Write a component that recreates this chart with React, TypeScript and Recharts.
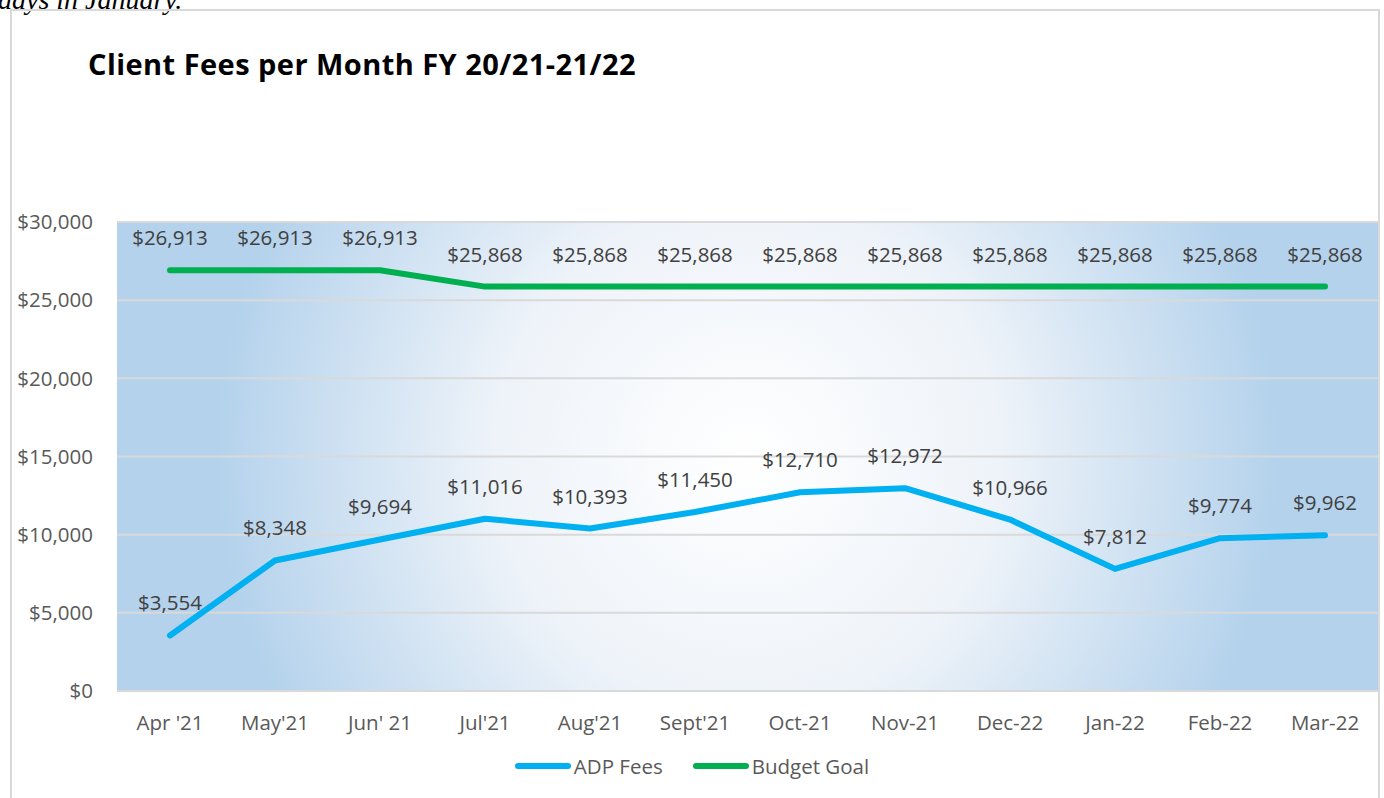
import { LineChart, Line, XAxis, YAxis, CartesianGrid, LabelList } from 'recharts';

const months = ["Apr '21", "May'21", "Jun' 21", "Jul'21", "Aug'21", "Sept'21", 'Oct-21', 'Nov-21', 'Dec-22', 'Jan-22', 'Feb-22', 'Mar-22'];
const adpFees = [3554, 8348, 9694, 11016, 10393, 11450, 12710, 12972, 10966, 7812, 9774, 9962];
const budgetGoal = [26913, 26913, 26913, 25868, 25868, 25868, 25868, 25868, 25868, 25868, 25868, 25868];
const yTicks = [0, 5000, 10000, 15000, 20000, 25000, 30000];

const BLUE = '#00b0f0';
const GREEN = '#00b050';
const FONT = '"Open Sans", sans-serif';

const rows = months.map((m, i) => ({ month: m, adp: adpFees[i], budget: budgetGoal[i] }));

const money = (v: number) => '$' + v.toLocaleString('en-US');

function LegendBox() {
  const items = [
    { name: 'ADP Fees', color: BLUE },
    { name: 'Budget Goal', color: GREEN },
  ];
  return (
    <div style={{ display: 'flex', justifyContent: 'center', gap: 30, fontFamily: FONT, fontSize: 20.5, color: '#595959' }}>
      {items.map((it) => (
        <span key={it.name} style={{ display: 'flex', alignItems: 'center', gap: 3 }}>
          <span style={{ width: 56, height: 6, borderRadius: 3, background: it.color }} />
          {it.name}
        </span>
      ))}
    </div>
  );
}

export default function App() {
  return (
    <div style={{ position: 'absolute', left: 0, top: 0, width: 1384, height: 798, overflow: 'hidden', background: '#fff' }}>
      {/* tail of the paragraph above the chart, cut off by the crop */}
      <div style={{ position: 'absolute', left: -2, top: -14, fontFamily: '"Liberation Serif", serif', fontStyle: 'italic', fontSize: 28, lineHeight: '28px', color: '#000', whiteSpace: 'nowrap' }}>
        days in January.
      </div>
      <div style={{ position: 'absolute', left: 10, top: 9, width: 1370, height: 820, border: '2px solid #d9d9d9', boxSizing: 'border-box' }} />
      <div style={{ position: 'absolute', left: 88, top: 49, fontFamily: FONT, fontWeight: 700, fontSize: 29, lineHeight: '29px', letterSpacing: 0.45, color: '#000', whiteSpace: 'nowrap' }}>
        Client Fees per Month FY 20/21-21/22
      </div>
      <div style={{ position: 'absolute', left: 0, top: 0 }}>
        <LineChart width={1384} height={798} data={rows} margin={{ top: 222, right: 6, bottom: 67, left: 0 }}>
          <defs>
            <radialGradient id="plotBg" gradientUnits="userSpaceOnUse" cx={747} cy={456} r={560}>
              <stop offset="0" stopColor="#ffffff" />
              <stop offset="0.45" stopColor="#eef3f9" />
              <stop offset="0.95" stopColor="#b4d2ec" />
            </radialGradient>
          </defs>
          <CartesianGrid vertical={false} stroke="#d9d9d9" strokeWidth={2} fill="url(#plotBg)" fillOpacity={1} />
          <XAxis
            dataKey="month"
            height={40}
            padding={{ left: 53, right: 53 }}
            tickLine={false}
            tickSize={0}
            tickMargin={24}
            axisLine={{ stroke: '#d9d9d9', strokeWidth: 2 }}
            tick={{ fill: '#595959', fontSize: 20.5, fontFamily: FONT }}
            interval={0}
          />
          <YAxis
            width={117}
            domain={[0, 30000]}
            ticks={yTicks}
            axisLine={false}
            tickLine={false}
            tickSize={0}
            tickMargin={24}
            tickFormatter={money}
            tick={{ fill: '#595959', fontSize: 20.5, fontFamily: FONT }}
          />
          <Line dataKey="adp" name="ADP Fees" stroke={BLUE} strokeWidth={6} strokeLinecap="round" strokeLinejoin="round" dot={false} activeDot={false} isAnimationActive={false}>
            <LabelList dataKey="adp" position="top" offset={25} formatter={(v: any) => money(Number(v))} style={{ fill: '#404040', fontSize: 20.5, fontFamily: FONT }} />
          </Line>
          <Line dataKey="budget" name="Budget Goal" stroke={GREEN} strokeWidth={6} strokeLinecap="round" strokeLinejoin="round" dot={false} activeDot={false} isAnimationActive={false}>
            <LabelList dataKey="budget" position="top" offset={25} formatter={(v: any) => money(Number(v))} style={{ fill: '#404040', fontSize: 20.5, fontFamily: FONT }} />
          </Line>
        </LineChart>
      </div>
      <div style={{ position: 'absolute', left: 0, top: 752, width: 1384 }}>
        <LegendBox />
      </div>
    </div>
  );
}
